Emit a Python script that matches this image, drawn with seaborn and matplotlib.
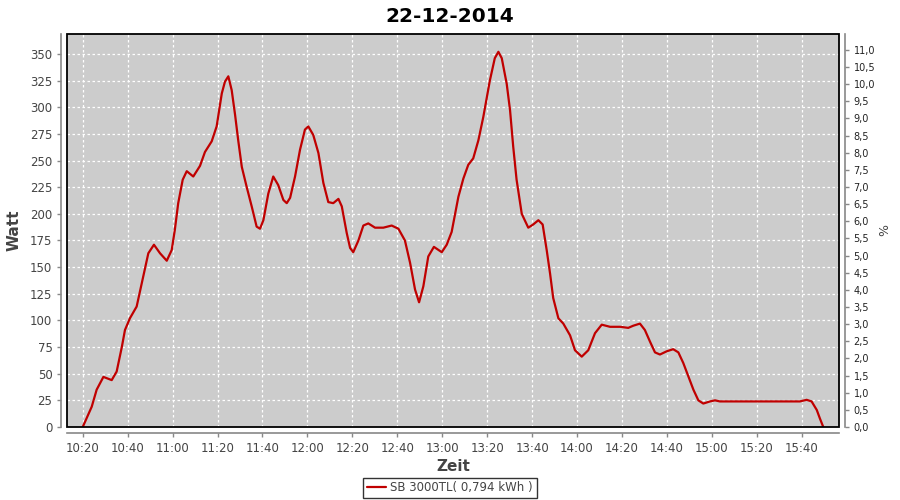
import numpy as np
import pandas as pd
import seaborn as sns
from matplotlib import pyplot as plt
from matplotlib.patches import Rectangle
from matplotlib.ticker import FixedLocator, FuncFormatter

# minutes after 10:20 and power in watt
minutes = [0, 4, 6.2, 9.2, 12.9, 15.1, 17.4, 18.8, 21, 24, 26.3, 29.2, 31.7, 34.4, 37.4,
           39.6, 41, 42.5, 44.5, 46.3, 49.2, 52.2, 54.4, 57.4, 59.6, 61.9, 63.3, 64.8, 66.3,
           67.8, 69.2, 70.8, 73, 75.2, 77.4, 78.9, 80.4, 82.6, 84.8, 87, 89.3, 90.8, 92.3,
           94.5, 96.7, 98.9, 100.4, 102.6, 104.9, 107.1, 109.3, 111.5, 113.8, 115.3, 117.5,
           119, 120.4, 122.7, 124.9, 127.1, 130.1, 133.8, 137.5, 140.5, 143.4, 145.7, 147.9,
           149.7, 151.6, 153.8, 156.3, 159.8, 162, 164.2, 167.2, 169.4, 171.6, 173.8, 176.1,
           178.3, 181.2, 183.4, 185, 186.5, 188.7, 190.2, 191.6, 193.1, 195.4, 198.3, 200.5,
           202.8, 204.7, 206.5, 208, 209.4, 211.7, 213.9, 216.9, 219.1, 222.1, 225, 228, 231,
           234.7, 239.2, 242.8, 245, 248, 250.2, 252.5, 254.7, 256.9, 259.9, 262.8, 265.1,
           267.3, 270, 271.8, 274, 276.2, 279.2, 281.4, 283.6, 319.2, 322.2, 324.4, 326.7,
           328.1, 329.6]
watt = [0, 19, 35, 47, 44, 52, 75, 91, 102, 113, 135, 163, 171, 163, 156,
        166, 185, 210, 232, 240, 235, 245, 258, 268, 282, 313, 324, 329, 316,
        293, 269, 244, 225, 207, 188, 186, 194, 219, 235, 227, 213, 210, 215,
        235, 260, 279, 282, 274, 257, 229, 211, 210, 214, 207, 182,
        168, 164, 175, 189, 191, 187, 187, 189, 186, 175, 154, 129,
        117, 132, 160, 169, 164, 171, 183, 216, 233, 246, 252, 269,
        291, 325, 346, 352, 346, 322, 297, 263, 232, 200, 187, 190,
        194, 190, 166, 144, 121, 102, 97, 86, 72, 66, 72, 88, 96,
        94, 94, 93, 95, 97, 91, 80, 70, 68, 71, 73, 70,
        60, 45, 35, 25, 22, 24, 25, 24, 24, 25.5, 24, 16,
        8, 0]

time_ticks = ["10:20", "10:40", "11:00", "11:20", "11:40", "12:00", "12:20", "12:40",
              "13:00", "13:20", "13:40", "14:00", "14:20", "14:40", "15:00", "15:20", "15:40"]
watt_ticks = [0, 25, 50, 75, 100, 125, 150, 175, 200, 225, 250, 275, 300, 325, 350]
pct_ticks = [i * 0.5 for i in range(23)]

title = "22-12-2014"
series_label = "SB 3000TL( 0,794 kWh )"

def clock(s):
	h, m = s.split(":")
	return int(h) * 60 + int(m)

start = clock("10:20")
df = pd.DataFrame({"t": [start + m for m in minutes], "watt": watt})

sns.set_theme(style="ticks")
plt.rcParams["font.family"] = ["DejaVu Sans"]

grey = "#444444"
fig = plt.figure(figsize=(9, 5), dpi=100)
ax = fig.add_axes([67 / 900, 73 / 500, 772 / 900, 393 / 500])
ax.set_facecolor("#cccccc")

sns.lineplot(data=df, x="t", y="watt", ax=ax, color="#c00000", linewidth=1.6, label=series_label)

ax.set_xlim(613.0, 956.6)
ax.set_ylim(0, 368.7)
ax.xaxis.set_major_locator(FixedLocator([clock(s) for s in time_ticks]))
ax.set_xticklabels(time_ticks)
ax.yaxis.set_major_locator(FixedLocator(watt_ticks))
ax.grid(True, color="white", linestyle=(0, (2, 2)), linewidth=0.9)
ax.set_axisbelow(True)

for side in ["top", "right"]:
	ax.spines[side].set_visible(False)
for side in ["left", "bottom"]:
	ax.spines[side].set_position(("outward", 4))
	ax.spines[side].set_color("#888888")
	ax.spines[side].set_linewidth(1.2)
ax.tick_params(colors="#888888", labelcolor=grey, labelsize=8.5, length=3, width=1)
ax.set_xlabel("Zeit", fontsize=11, color=grey, fontweight="semibold", labelpad=3)
ax.set_ylabel("Watt", fontsize=11, color=grey, fontweight="semibold", labelpad=6)
ax.add_patch(Rectangle((0, 0), 1, 1, transform=ax.transAxes, fill=False,
	edgecolor="black", linewidth=1.3, clip_on=False, zorder=5))

ax2 = ax.twinx()
ax2.set_ylim(0, 11.46)
ax2.yaxis.set_major_locator(FixedLocator(pct_ticks))
ax2.yaxis.set_major_formatter(FuncFormatter(lambda v, p: ("%.1f" % v).replace(".", ",")))
for side in ["top", "left", "bottom"]:
	ax2.spines[side].set_visible(False)
ax2.spines["right"].set_position(("outward", 4))
ax2.spines["right"].set_color("#888888")
ax2.spines["right"].set_linewidth(1.2)
ax2.tick_params(colors="#888888", labelcolor="#222222", labelsize=7, length=3, width=1)
ax2.set_ylabel("%", fontsize=9, color=grey, labelpad=2)
ax2.grid(False)

handles, labels = ax.get_legend_handles_labels()
ax.get_legend().remove()
leg = fig.legend(handles, labels, loc="lower center", bbox_to_anchor=(0.5, 0.0),
	fontsize=8.5, frameon=True, fancybox=False, handlelength=1.6, handletextpad=0.4,
	borderpad=0.3, borderaxespad=0.2)
leg.get_frame().set_edgecolor("black")
leg.get_frame().set_linewidth(1.0)
for t in leg.get_texts():
	t.set_color(grey)

fig.suptitle(title, fontsize=14.5, fontweight="bold", color="black", y=0.985)
fig.savefig("out.png", dpi=100)
